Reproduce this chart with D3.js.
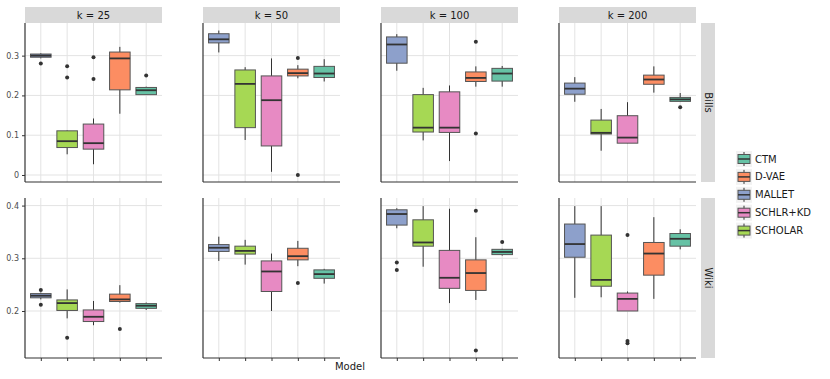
<!DOCTYPE html>
<html>
<head lang="en">
    <meta charset="UTF-8">
    <title></title>
    <script src="https://cdn.jsdelivr.net/npm/d3@7/dist/d3.min.js"></script>
    <style>
        body{margin:0;background:#fff;}
        text{font-family:"DejaVu Sans",sans-serif;}
        .grid line{stroke:#e3e3e3;stroke-width:1px;}
        .tick text{fill:#4d4d4d;font-size:8px;}
    </style>
</head>
<body>
<script>
    // order on the x axis, and legend order
    var models=["MALLET","SCHOLAR","SCHLR+KD","D-VAE","CTM"];
    var legendModels=["CTM","D-VAE","MALLET","SCHLR+KD","SCHOLAR"];
    var colors=["#66c2a5","#fc8d62","#8da0cb","#e78ac3","#a6d854"];
    var ks=[25,50,100,200];
    var rows=["Bills","Wiki"];
    var billsTicks=[0,0.1,0.2,0.3];
    var wikiTicks=[0.2,0.3,0.4];

    // k, model, whisker low, q1, median, q3, whisker high
    var billsBoxes=[
        [25,"MALLET",0.293,0.296,0.300,0.304,0.306],
        [25,"SCHOLAR",0.052,0.069,0.085,0.111,0.112],
        [25,"SCHLR+KD",0.027,0.065,0.080,0.128,0.142],
        [25,"D-VAE",0.154,0.214,0.293,0.309,0.322],
        [25,"CTM",0.203,0.202,0.213,0.220,0.222],
        [50,"MALLET",0.308,0.332,0.341,0.355,0.363],
        [50,"SCHOLAR",0.088,0.119,0.229,0.264,0.271],
        [50,"SCHLR+KD",0.008,0.073,0.188,0.249,0.293],
        [50,"D-VAE",0.243,0.249,0.256,0.266,0.276],
        [50,"CTM",0.235,0.245,0.255,0.273,0.291],
        [100,"MALLET",0.262,0.281,0.328,0.347,0.354],
        [100,"SCHOLAR",0.087,0.108,0.119,0.202,0.219],
        [100,"SCHLR+KD",0.035,0.107,0.119,0.209,0.225],
        [100,"D-VAE",0.222,0.235,0.244,0.259,0.273],
        [100,"CTM",0.222,0.236,0.255,0.268,0.274],
        [200,"MALLET",0.184,0.203,0.217,0.231,0.246],
        [200,"SCHOLAR",0.061,0.103,0.106,0.138,0.166],
        [200,"SCHLR+KD",0.080,0.080,0.094,0.149,0.183],
        [200,"D-VAE",0.207,0.228,0.240,0.251,0.273],
        [200,"CTM",0.185,0.185,0.190,0.195,0.206]
    ];
    var billsOutliers=[
        [25,"MALLET",0.280],[25,"SCHOLAR",0.273],[25,"SCHOLAR",0.245],
        [25,"SCHLR+KD",0.296],[25,"SCHLR+KD",0.241],[25,"CTM",0.250],
        [50,"D-VAE",0.294],[50,"D-VAE",0.000],
        [100,"D-VAE",0.335],[100,"D-VAE",0.104],
        [200,"CTM",0.170]
    ];
    var wikiBoxes=[
        [25,"MALLET",0.222,0.225,0.229,0.233,0.235],
        [25,"SCHOLAR",0.186,0.201,0.215,0.221,0.241],
        [25,"SCHLR+KD",0.173,0.180,0.189,0.202,0.219],
        [25,"D-VAE",0.216,0.218,0.222,0.232,0.249],
        [25,"CTM",0.202,0.205,0.210,0.214,0.216],
        [50,"MALLET",0.295,0.313,0.320,0.326,0.341],
        [50,"SCHOLAR",0.288,0.308,0.314,0.323,0.335],
        [50,"SCHLR+KD",0.200,0.237,0.275,0.295,0.309],
        [50,"D-VAE",0.285,0.297,0.304,0.319,0.333],
        [50,"CTM",0.252,0.262,0.270,0.278,0.280],
        [100,"MALLET",0.357,0.363,0.384,0.392,0.395],
        [100,"SCHOLAR",0.284,0.323,0.330,0.373,0.399],
        [100,"SCHLR+KD",0.215,0.243,0.263,0.315,0.394],
        [100,"D-VAE",0.221,0.239,0.272,0.297,0.340],
        [100,"CTM",0.305,0.307,0.312,0.317,0.318],
        [200,"MALLET",0.225,0.302,0.327,0.365,0.399],
        [200,"SCHOLAR",0.226,0.247,0.259,0.344,0.399],
        [200,"SCHLR+KD",0.200,0.200,0.223,0.234,0.237],
        [200,"D-VAE",0.223,0.268,0.309,0.330,0.378],
        [200,"CTM",0.317,0.323,0.337,0.347,0.355]
    ];
    var wikiOutliers=[
        [25,"MALLET",0.240],[25,"MALLET",0.212],[25,"SCHOLAR",0.149],[25,"D-VAE",0.166],
        [50,"D-VAE",0.253],
        [100,"MALLET",0.292],[100,"MALLET",0.278],[100,"D-VAE",0.390],[100,"D-VAE",0.125],[100,"CTM",0.331],
        [200,"SCHLR+KD",0.344],[200,"SCHLR+KD",0.143],[200,"SCHLR+KD",0.139]
    ];

    var W=830,H=379;
    var panelW=137,panelGap=41,left0=25;
    var rowDefs=[
        {name:"Bills",top:23,bottom:182,domain:[-0.0176,0.382],ticks:billsTicks,boxes:billsBoxes,outliers:billsOutliers,xticks:false},
        {name:"Wiki",top:198,bottom:358,domain:[0.1108,0.4144],ticks:wikiTicks,boxes:wikiBoxes,outliers:wikiOutliers,xticks:true}
    ];
    var color=d3.scaleOrdinal().domain(legendModels).range(colors);
    var fmt=function(d){return d===0?"0":d3.format(".1f")(d);};

    var svg=d3.select("body").append("svg").attr("width",W).attr("height",H);

    ks.forEach(function(k,ci){
        var x0=left0+ci*(panelW+panelGap);
        var x=d3.scalePoint().domain(models).range([x0,x0+panelW]).padding(0.6);
        var bw=x.step()*0.78;

        // strip on top
        svg.append("rect").attr("x",x0).attr("y",7).attr("width",panelW).attr("height",16).attr("fill","#d9d9d9");
        svg.append("text").attr("x",x0+panelW/2).attr("y",19).attr("text-anchor","middle")
            .style("font-size","10px").attr("fill","#1a1a1a").text("k = "+k);

        rowDefs.forEach(function(r){
            var y=d3.scaleLinear().domain(r.domain).range([r.bottom,r.top]);
            var g=svg.append("g");
            var grid=g.append("g").attr("class","grid");
            grid.selectAll(".gy").data(r.ticks).enter().append("line")
                .attr("x1",x0).attr("x2",x0+panelW)
                .attr("y1",function(d){return y(d);}).attr("y2",function(d){return y(d);});
            grid.selectAll(".gx").data(models).enter().append("line")
                .attr("x1",function(d){return x(d);}).attr("x2",function(d){return x(d);})
                .attr("y1",r.top).attr("y2",r.bottom);

            var bx=r.boxes.filter(function(b){return b[0]===k;});
            var bg=g.selectAll(".box").data(bx).enter().append("g");
            bg.append("line").attr("x1",function(d){return x(d[1]);}).attr("x2",function(d){return x(d[1]);})
                .attr("y1",function(d){return y(d[2]);}).attr("y2",function(d){return y(d[6]);})
                .attr("stroke","#333").attr("stroke-width",1);
            bg.append("rect").attr("x",function(d){return x(d[1])-bw/2;}).attr("width",bw)
                .attr("y",function(d){return y(d[5]);})
                .attr("height",function(d){return Math.max(1,y(d[3])-y(d[5]));})
                .attr("fill",function(d){return color(d[1]);})
                .attr("stroke","#555").attr("stroke-width",1);
            bg.append("line").attr("x1",function(d){return x(d[1])-bw/2;}).attr("x2",function(d){return x(d[1])+bw/2;})
                .attr("y1",function(d){return y(d[4]);}).attr("y2",function(d){return y(d[4]);})
                .attr("stroke","#333").attr("stroke-width",1.8);

            g.selectAll(".out").data(r.outliers.filter(function(o){return o[0]===k;})).enter().append("circle")
                .attr("cx",function(d){return x(d[1]);}).attr("cy",function(d){return y(d[2]);})
                .attr("r",2).attr("fill","#333");

            // axes
            var ay=d3.axisLeft(y).tickValues(r.ticks).tickFormat(ci===0?fmt:"").tickSize(ci===0?3:0).tickPadding(3);
            var gy=g.append("g").attr("transform","translate("+x0+",0)").call(ay);
            gy.select(".domain").attr("d","M0,"+r.top+"V"+r.bottom).attr("stroke","#333").attr("stroke-width",1.2);
            gy.selectAll(".tick line").attr("stroke","#333");
            var ax=d3.axisBottom(x).tickFormat("").tickSize(r.xticks?3:0);
            var gx=g.append("g").attr("transform","translate(0,"+r.bottom+")").call(ax);
            gx.select(".domain").attr("d","M"+x0+",0H"+(x0+panelW)).attr("stroke","#333").attr("stroke-width",1.2);
            gx.selectAll(".tick line").attr("stroke","#333");
        });
    });

    // right strips
    var xr=left0+4*panelW+3*panelGap+5;
    rowDefs.forEach(function(r){
        svg.append("rect").attr("x",xr).attr("y",r.top).attr("width",14).attr("height",r.bottom-r.top).attr("fill","#d9d9d9");
        var cy=(r.top+r.bottom)/2;
        svg.append("text").attr("transform","translate("+(xr+7)+","+cy+") rotate(90)")
            .attr("text-anchor","middle").attr("dy","0.35em").style("font-size","10px").attr("fill","#1a1a1a").text(r.name);
    });

    // axis title
    svg.append("text").attr("x",350).attr("y",370).attr("text-anchor","middle")
        .style("font-size","10px").attr("fill","#1a1a1a").text("Model");

    // legend
    var lg=svg.append("g").attr("transform","translate(736,151)");
    var li=lg.selectAll("g").data(legendModels).enter().append("g")
        .attr("transform",function(d,i){return "translate(0,"+(i*17.9)+")";});
    li.append("rect").attr("width",16).attr("height",16).attr("fill","#f2f2f2");
    li.append("line").attr("x1",8).attr("x2",8).attr("y1",1).attr("y2",15).attr("stroke","#333");
    li.append("rect").attr("x",2).attr("y",3.5).attr("width",12).attr("height",9)
        .attr("fill",function(d){return color(d);}).attr("stroke","#555");
    li.append("line").attr("x1",2).attr("x2",14).attr("y1",8).attr("y2",8).attr("stroke","#333").attr("stroke-width",1.5);
    li.append("text").attr("x",19).attr("y",8).attr("dy","0.35em").style("font-size","10px").attr("fill","#1a1a1a").text(function(d){return d;});
</script>
</body>
</html>
